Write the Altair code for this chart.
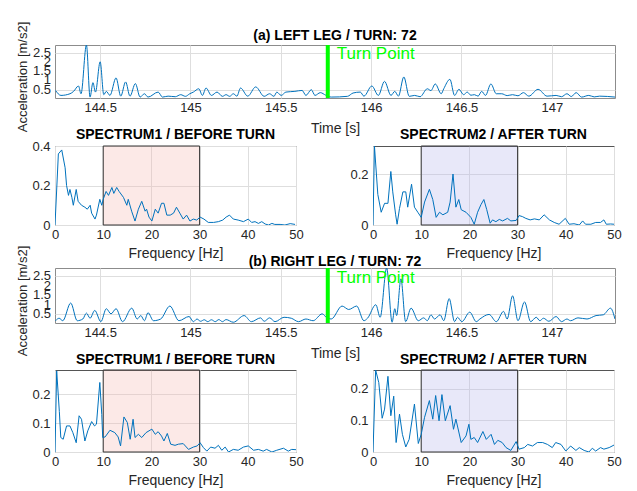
import altair as alt
import pandas as pd

FONT = "Liberation Sans"
BLUE = "#0072BD"
GREEN = "#00FF00"
INK = "#262626"

TURN_TIME = 145.76
TURN_LABEL_T = 145.81
TURN_LABEL_V = 2.42
TIME_DOMAIN = [144.25, 147.35]
time_ticks = [144.5, 145, 145.5, 146, 146.5, 147]
acc_ticks = [0.5, 1, 1.5, 2, 2.5]
acc_labels = ["0.5", "1", "1.5", "2", "2.5"]
freq_ticks = [0, 10, 20, 30, 40, 50]
band = [10, 30]

# (a) left leg acceleration (local extremes)
left_t = [144.253, 144.283, 144.333, 144.353, 144.380, 144.394, 144.424, 144.444, 144.460, 144.474,
          144.500, 144.520, 144.534, 144.554, 144.588, 144.614, 144.641, 144.665, 144.695, 144.721,
          144.745, 144.765, 144.821, 144.845, 144.876, 144.916, 144.946, 144.972, 144.996, 145.016,
          145.046, 145.066, 145.086, 145.116, 145.147, 145.177, 145.197, 145.217, 145.237, 145.257,
          145.277, 145.317, 145.361, 145.408, 145.438, 145.462, 145.478, 145.502, 145.528, 145.578,
          145.618, 145.639, 145.669, 145.689, 145.719, 145.749, 145.779, 145.869, 145.900, 145.940,
          145.960, 146.004, 146.040, 146.074, 146.110, 146.131, 146.151, 146.181, 146.211, 146.241,
          146.271, 146.311, 146.331, 146.355, 146.388, 146.402, 146.436, 146.462, 146.486, 146.512,
          146.532, 146.552, 146.572, 146.592, 146.612, 146.633, 146.663, 146.693, 146.723, 146.753,
          146.783, 146.813, 146.843, 146.873, 146.924, 146.974, 147.024, 147.054, 147.084, 147.108,
          147.135, 147.165, 147.205, 147.235, 147.265, 147.35]
left_acc = [0.46, 0.19, 0.28, 0.41, 0.70, 0.28, 2.92, 0.10, 0.88, 0.37,
            2.01, 0.23, 0.41, 0.19, 1.14, 0.15, 0.92, 0.15, 0.83, 0.10,
            0.28, 0.10, 0.37, 0.10, 0.15, 0.12, 0.23, 0.14, 0.28, 0.37,
            0.55, 0.19, 0.59, 0.19, 0.37, 0.14, 0.23, 0.14, 0.28, 0.15,
            0.59, 0.15, 0.65, 0.14, 0.28, 0.14, 0.37, 0.19, 0.37, 0.41,
            0.46, 0.19, 0.50, 0.19, 0.34, 0.20, 0.10, 0.14, 0.32, 0.37,
            0.15, 0.70, 0.19, 0.95, 0.19, 0.41, 0.15, 1.19, 0.14, 0.19,
            0.12, 0.55, 0.45, 0.81, 0.28, 0.55, 1.06, 0.19, 0.52, 0.23,
            0.37, 0.20, 0.23, 0.15, 0.41, 0.19, 0.81, 0.28, 0.28, 0.18,
            0.23, 0.17, 0.34, 0.15, 0.52, 0.15, 0.19, 0.12, 0.28, 0.13,
            0.34, 0.10, 0.19, 0.11, 0.15, 0.10]

# (b) right leg acceleration
right_t = [144.253, 144.273, 144.293, 144.337, 144.373, 144.404, 144.424, 144.444, 144.470, 144.504,
           144.534, 144.560, 144.588, 144.624, 144.675, 144.705, 144.725, 144.745, 144.765, 144.795,
           144.835, 144.886, 144.936, 144.992, 145.016, 145.036, 145.056, 145.076, 145.096, 145.116,
           145.137, 145.157, 145.177, 145.197, 145.237, 145.297, 145.337, 145.388, 145.408, 145.438,
           145.468, 145.518, 145.558, 145.598, 145.639, 145.679, 145.729, 145.755, 145.779, 145.839,
           145.876, 145.920, 145.960, 145.980, 146.026, 146.050, 146.086, 146.116, 146.131, 146.141,
           146.165, 146.191, 146.221, 146.261, 146.291, 146.311, 146.331, 146.351, 146.382, 146.402,
           146.432, 146.462, 146.478, 146.502, 146.546, 146.582, 146.602, 146.653, 146.693, 146.733,
           146.753, 146.783, 146.813, 146.849, 146.883, 146.914, 146.934, 146.954, 146.984, 147.024,
           147.054, 147.084, 147.104, 147.145, 147.195, 147.245, 147.285, 147.325, 147.35]
right_acc = [0.15, 0.28, 0.15, 1.08, 0.15, 0.24, 0.55, 0.28, 0.69, 0.10,
             0.78, 0.51, 0.78, 0.10, 0.81, 0.24, 0.42, 0.15, 0.57, 0.15,
             0.24, 0.92, 0.15, 0.37, 0.10, 0.24, 0.12, 0.20, 0.10, 0.20,
             0.10, 0.21, 0.10, 0.21, 0.07, 0.42, 0.10, 0.30, 0.12, 0.30,
             0.10, 0.33, 0.28, 0.10, 0.24, 0.15, 0.51, 0.30, 0.24, 0.92,
             0.74, 0.92, 0.15, 0.28, 0.99, 0.33, 2.92, 0.07, 0.78, 0.42,
             2.35, 0.10, 0.81, 0.15, 0.30, 0.15, 0.46, 0.24, 0.46, 0.15,
             1.31, 0.10, 0.33, 0.10, 0.60, 0.10, 0.24, 0.48, 0.10, 0.64,
             0.24, 1.46, 0.15, 1.14, 0.10, 0.33, 0.15, 0.28, 0.12, 0.37,
             0.10, 0.24, 0.15, 0.30, 0.24, 0.42, 0.46, 0.81, 0.24]

# Spectra
s1_f = [0, 0.7, 1.4, 2.1, 2.4, 2.8, 3.1, 3.5, 3.8, 4.4, 4.8, 5.5, 6.2, 6.7, 7.3, 7.6, 8.3, 8.6, 9.3, 9.7,
        10.0, 10.6, 11.1, 11.8, 12.2, 12.8, 13.3, 14.2, 14.9, 15.2, 15.9, 16.6, 17.3, 18.0, 18.7, 19.0,
        19.5, 20.1, 20.8, 21.4, 22.1, 22.6, 23.2, 23.9, 24.6, 25.2, 25.9, 26.6, 27.3, 28.0, 28.7, 29.4,
        30.1, 30.9, 31.8, 32.9, 33.9, 34.8, 35.5, 36.2, 37.0, 38.0, 39.1, 40.1, 40.8, 41.5, 42.2, 42.9,
        43.6, 44.3, 45.0, 45.6, 46.7, 47.7, 48.8, 49.8]
s1_v = [0.0, 0.36, 0.38, 0.29, 0.20, 0.15, 0.18, 0.14, 0.10, 0.18, 0.12, 0.10, 0.09, 0.08, 0.10, 0.06, 0.03, 0.05, 0.13, 0.10,
        0.13, 0.17, 0.15, 0.19, 0.16, 0.19, 0.17, 0.14, 0.10, 0.13, 0.07, 0.02, 0.08, 0.12, 0.07, 0.08,
        0.04, 0.02, 0.08, 0.06, 0.11, 0.11, 0.05, 0.05, 0.06, 0.09, 0.06, 0.03, 0.05, 0.02, 0.03, 0.025,
        0.04, 0.03, 0.013, 0.013, 0.017, 0.025, 0.04, 0.05, 0.03, 0.025, 0.017, 0.03, 0.013, 0.017, 0.008, 0.017,
        0.005, 0.0, 0.008, 0.003, 0.003, 0.0, 0.007, 0.003]

s2_f = [0, 0.3, 1.0, 1.7, 2.4, 3.1, 3.7, 4.1, 4.7, 5.0, 5.5, 6.2, 6.8, 7.2, 8.0, 8.6, 9.3, 10.0, 10.7, 11.7,
        12.4, 13.1, 13.8, 14.5, 15.5, 16.0, 16.6, 17.2, 17.8, 18.3, 19.3, 20.3, 21.0, 21.7, 22.4, 23.0,
        23.6, 24.3, 24.8, 25.5, 26.2, 26.9, 27.9, 28.6, 29.7, 30.3, 31.0, 31.7, 32.6, 33.5, 34.5, 35.5,
        36.6, 37.6, 38.6, 39.9, 40.7, 41.7, 42.8, 43.5, 44.1, 45.2, 46.2, 47.2, 47.9, 48.4, 49.3, 50.0]
s2_v = [0.0, 0.31, 0.12, 0.05, 0.085, 0.085, 0.21, 0.13, 0.04, 0.003, 0.065, 0.13, 0.13, 0.07, 0.16, 0.07, 0.05, 0.03, 0.09, 0.14,
        0.10, 0.03, 0.05, 0.04, 0.05, 0.09, 0.20, 0.07, 0.10, 0.06, 0.05, 0.03, 0.003, 0.05, 0.08, 0.10,
        0.06, 0.007, 0.02, 0.013, 0.022, 0.016, 0.026, 0.016, 0.018, 0.037, 0.033, 0.026, 0.02, 0.024, 0.02, 0.04,
        0.02, 0.01, 0.003, 0.026, 0.003, 0.005, 0.0, 0.016, 0.003, 0.003, 0.01, 0.01, 0.02, 0.003, 0.004, 0.003]

s3_f = [0, 0.35, 0.9, 1.2, 1.7, 2.4, 3.1, 3.7, 4.4, 5.0, 5.5, 6.2, 6.8, 7.6, 8.2, 8.6, 9.3, 9.7, 9.9, 10.4,
        11.4, 12.4, 13.1, 13.6, 14.3, 15.0, 15.6, 16.2, 16.6, 17.3, 18.0, 18.9, 20.1, 20.8, 21.4, 22.1,
        22.6, 23.3, 24.0, 24.9, 25.6, 26.6, 27.7, 28.7, 29.5, 30.1, 30.8, 31.5, 32.3, 33.2, 33.9, 34.6,
        35.3, 36.0, 37.0, 38.0, 39.1, 40.1, 41.2, 42.2, 43.2, 43.9, 45.0, 46.0, 47.4, 48.4, 49.1, 50.0]
s3_v = [0.0, 0.28, 0.14, 0.05, 0.044, 0.09, 0.09, 0.067, 0.032, 0.125, 0.113, 0.038, 0.073, 0.105, 0.09, 0.096, 0.24, 0.13, 0.05, 0.052,
        0.075, 0.067, 0.052, 0.021, 0.121, 0.102, 0.044, 0.113, 0.05, 0.061, 0.05, 0.067, 0.079, 0.061, 0.07, 0.055,
        0.038, 0.064, 0.027, 0.023, 0.027, 0.029, 0.009, 0.017, 0.021, 0.032, 0.015, 0.003, 0.017, 0.013, 0.023, 0.006,
        0.017, 0.0, 0.009, 0.006, 0.017, 0.021, 0.006, 0.009, 0.003, 0.009, 0.0, 0.006, 0.013, 0.003, 0.009, 0.008]

s4_f = [0, 0.55, 1.2, 1.9, 2.4, 3.1, 3.7, 4.3, 4.8, 5.5, 6.1, 6.8, 7.5, 8.6, 9.4, 10.0, 10.7, 11.7, 12.4, 13.0,
        13.7, 14.3, 15.0, 16.0, 16.7, 17.2, 18.3, 19.3, 19.9, 20.3, 21.0, 21.7, 22.8, 23.5, 24.5, 25.2,
        25.9, 26.8, 27.6, 28.6, 29.7, 30.3, 31.4, 32.1, 33.1, 34.1, 35.2, 36.2, 37.2, 37.9, 39.0, 40.0,
        41.0, 42.1, 42.8, 43.8, 44.8, 45.5, 46.2, 47.2, 47.9, 49.0, 50.0]
s4_v = [0.0, 0.26, 0.22, 0.107, 0.136, 0.24, 0.115, 0.177, 0.03, 0.12, 0.056, 0.016, 0.04, 0.152, 0.027, 0.056, 0.11, 0.163, 0.104, 0.179,
        0.099, 0.182, 0.099, 0.147, 0.072, 0.104, 0.03, 0.051, 0.088, 0.04, 0.046, 0.03, 0.065, 0.04, 0.056, 0.024,
        0.037, 0.03, 0.014, 0.005, 0.033, 0.009, 0.014, 0.024, 0.019, 0.03, 0.03, 0.024, 0.014, 0.03, 0.024, 0.003,
        0.019, 0.005, 0.014, 0.005, 0.0, 0.012, 0.003, 0.014, 0.009, 0.014, 0.022]


def title_layer(title, width, baseline_y):
    return alt.Chart(pd.DataFrame({"title": [title]})).mark_text(
        font=FONT, fontSize=14, fontWeight="bold", color="#000000", align="center", baseline="alphabetic"
    ).encode(x=alt.value(width / 2), y=alt.value(-baseline_y), text="title:N")


def time_chart(t, v, title, ydom, height, title_base):
    width = 560
    df = pd.DataFrame({"t": t, "v": v})
    xenc = alt.X("t:Q", scale=alt.Scale(domain=TIME_DOMAIN, nice=False, zero=False),
                 axis=alt.Axis(values=time_ticks, format=".4~g", title="Time [s]", labelFlush=False,
                               labelPadding=3, titleY=30, titleBaseline="middle"))
    yenc = alt.Y("v:Q", scale=alt.Scale(domain=ydom, nice=False, zero=False),
                 axis=alt.Axis(values=acc_ticks, labels=False, title="Acceleration [m/s2]",
                               titleX=-33, titleY=height / 2 + 5, titleAlign="center",
                               titleBaseline="middle", titleFontSize=13))
    line = alt.Chart(df).mark_line(color=BLUE, strokeWidth=1, interpolate="monotone", clip=True).encode(x=xenc, y=yenc)
    ylabels = alt.Chart(pd.DataFrame({"v": acc_ticks, "lab": acc_labels})).mark_text(
        font=FONT, fontSize=13, color=INK, align="right", baseline="middle"
    ).encode(x=alt.value(-4), y="v:Q", text="lab:N")
    rule = alt.Chart(pd.DataFrame({"t": [TURN_TIME]})).mark_rule(color=GREEN, strokeWidth=4).encode(x="t:Q")
    txt = alt.Chart(pd.DataFrame({"t": [TURN_LABEL_T], "v": [TURN_LABEL_V], "label": ["Turn Point"]})).mark_text(
        color=GREEN, font=FONT, fontSize=17, align="left", baseline="middle").encode(x="t:Q", y="v:Q", text="label:N")
    return alt.layer(line, ylabels, rule, txt, title_layer(title, width, title_base)).properties(
        width=width, height=height,
        view=alt.ViewBackground(stroke="#8c8c8c", strokeWidth=1),
    )


def spec_chart(f, v, title, ymax, yticks, fill, height, title_base):
    width = 241
    df = pd.DataFrame({"f": f, "v": v})
    xenc = alt.X("f:Q", scale=alt.Scale(domain=[0, 50], nice=False),
                 axis=alt.Axis(values=freq_ticks, format=".2~g", title="Frequency [Hz]", labelFlush=False,
                               labelPadding=3, titleY=28, titleBaseline="middle"))
    yenc = alt.Y("v:Q", scale=alt.Scale(domain=[0, ymax], nice=False),
                 axis=alt.Axis(values=yticks, format=".2~g", title=None, labelPadding=5, labelFlush=False,
                               labelOverlap=False))
    rect = alt.Chart(pd.DataFrame({"f": [band[0]], "f2": [band[1]]})).mark_rect(
        fill=fill, fillOpacity=0.3, stroke="#333333", strokeWidth=1).encode(
        x=alt.X("f:Q"), x2="f2:Q", y=alt.value(0), y2=alt.value(height))
    line = alt.Chart(df).mark_line(color=BLUE, strokeWidth=1, clip=True).encode(x=xenc, y=yenc)
    return alt.layer(rect, line, title_layer(title, width, title_base)).properties(
        width=width, height=height,
        view=alt.ViewBackground(stroke="#555555", strokeWidth=1),
    )


PINK = "#F4B6B0"
LAV = "#B4B4EA"

ta = time_chart(left_t, left_acc, "(a) LEFT LEG / TURN: 72", [0.05, 2.92], 53, 5)
tb = time_chart(right_t, right_acc, "(b) RIGHT LEG / TURN: 72", [0.03, 2.92], 55, 2)
sp1 = spec_chart(s1_f, s1_v, "SPECTRUM1 / BEFORE TURN", 0.4, [0, 0.2, 0.4], PINK, 79, 7)
sp2 = spec_chart(s2_f, s2_v, "SPECTRUM2 / AFTER TURN", 0.31, [0, 0.2], LAV, 79, 7)
sp3 = spec_chart(s3_f, s3_v, "SPECTRUM1 / BEFORE TURN", 0.283, [0, 0.1, 0.2], PINK, 82, 6)
sp4 = spec_chart(s4_f, s4_v, "SPECTRUM2 / AFTER TURN", 0.26, [0, 0.1, 0.2], LAV, 82, 6)

row2 = alt.hconcat(sp1, sp2, spacing=77, bounds="flush")
row4 = alt.hconcat(sp3, sp4, spacing=77, bounds="flush")
top = alt.vconcat(ta, row2, spacing=-9)
bottom = alt.vconcat(tb, row4, spacing=-9)

chart = alt.vconcat(top, bottom, spacing=-17).properties(
    padding={"left": 7, "top": 12, "right": 0, "bottom": 0},
    background="white",
).configure_axis(
    labelFont=FONT, labelFontSize=13, labelColor=INK,
    titleFont=FONT, titleFontSize=14, titleFontWeight="normal", titleColor=INK,
    gridColor="#dedede", gridWidth=1, domain=False, ticks=False,
)

chart.save("out.html", embed_options={"renderer": "svg", "actions": False})
